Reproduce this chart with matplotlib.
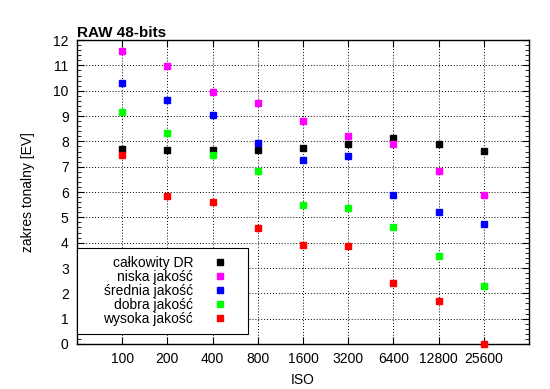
import matplotlib
matplotlib.use('Agg')
import matplotlib.pyplot as plt
import matplotlib.patches as patches
import numpy as np
from matplotlib.ticker import MultipleLocator

iso_labels = ['100', '200', '400', '800', '1600', '3200', '6400', '12800', '25600']

calkowity = [7.70, 7.65, 7.65, 7.67, 7.75, 7.88, 8.12, 7.88, 7.63]
niska = [11.58, 10.99, 9.96, 9.53, 8.80, 8.21, 7.90, 6.84, 5.88]
srednia = [10.29, 9.64, 9.04, 7.93, 7.26, 7.42, 5.88, 5.21, 4.74]
dobra = [9.17, 8.33, 7.46, 6.83, 5.50, 5.37, 4.63, 3.49, 2.29]
wysoka = [7.45, 5.84, 5.60, 4.57, 3.91, 3.88, 2.42, 1.70, 0.0]

series = [
    ('całkowity DR', calkowity, '#000000'),
    ('niska jakość', niska, '#ff00ff'),
    ('średnia jakość', srednia, '#0000ff'),
    ('dobra jakość', dobra, '#00ff00'),
    ('wysoka jakość', wysoka, '#ff0000'),
]


def plot():
    plt.rcParams['font.family'] = ['Liberation Sans', 'DejaVu Sans']
    plt.rcParams['font.size'] = 10

    fig = plt.figure(figsize=(5.5, 3.89), dpi=100)
    ax = fig.add_axes([0.14, 0.1157, 0.822, 0.7813])

    x = np.arange(len(iso_labels))
    for label, vals, col in series:
        ax.plot(x, vals, 's', color=col, markersize=5, label=label,
                clip_on=False, zorder=3)

    ax.set_xlim(-1, 9)
    ax.set_ylim(0, 12)
    ax.set_xticks(x)
    ax.set_xticklabels(iso_labels)
    ax.yaxis.set_major_locator(MultipleLocator(1))
    ax.yaxis.set_minor_locator(MultipleLocator(0.2))
    ax.tick_params(which='both', direction='in', top=True, right=True)
    ax.tick_params(which='major', length=5, pad=6)
    ax.tick_params(which='minor', length=3)
    ax.grid(True, which='major', linestyle=(0, (1, 2)), color='black', linewidth=0.7)
    for s in ax.spines.values():
        s.set_linewidth(1.0)

    ax.set_xlabel('ISO', labelpad=5)
    ax.set_ylabel('zakres tonalny [EV]', labelpad=13)
    ax.set_title('RAW 48-bits', loc='left', fontweight='bold', pad=2, fontsize=11)

    # legend box (gnuplot style)
    box = patches.Rectangle((0.0, 0.033), 0.378, 0.283, transform=ax.transAxes,
                            facecolor='white', edgecolor='black', linewidth=0.8,
                            zorder=4, clip_on=False)
    ax.add_patch(box)

    leg = ax.legend(loc='upper right', bbox_to_anchor=(0.332, 0.289),
                    markerfirst=False, frameon=False, borderaxespad=0,
                    borderpad=0, handlelength=1.0, handletextpad=1.44,
                    labelspacing=0.0, fontsize=10)
    for t in leg.get_texts():
        t.set_ha('right')
    leg.set_zorder(5)

    plt.savefig('out.png', dpi=100)


if __name__ == '__main__':
    plot()
